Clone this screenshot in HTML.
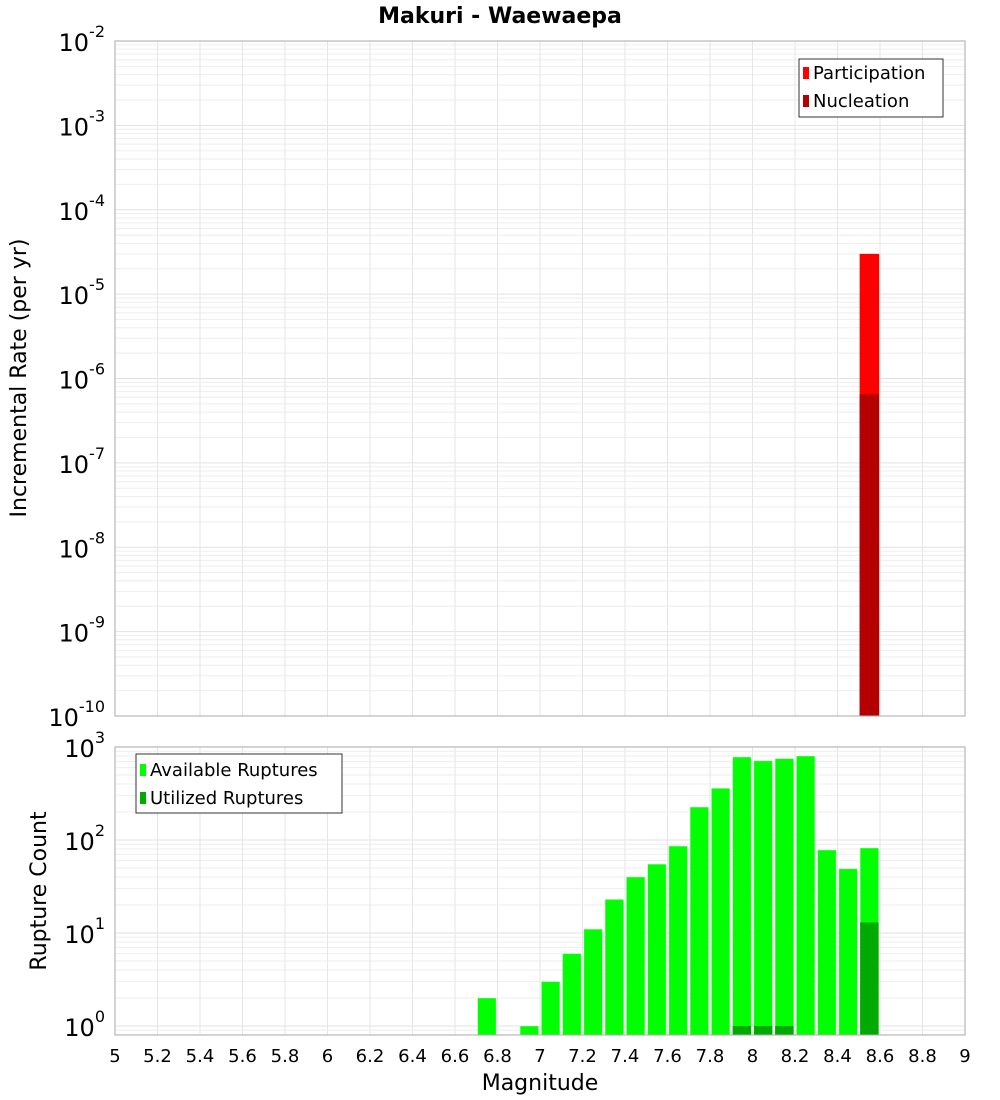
<!DOCTYPE html>
<html><head><meta charset="utf-8">
<style>
body{margin:0;background:#fff;font-family:"DejaVu Sans","Liberation Sans",sans-serif;}
svg{display:block}
</style></head>
<body>
<svg id="c" width="1000" height="1100" xmlns="http://www.w3.org/2000/svg"></svg>
<script>
const magTicks=["5","5.2","5.4","5.6","5.8","6","6.2","6.4","6.6","6.8","7","7.2","7.4","7.6","7.8","8","8.2","8.4","8.6","8.8","9"];
const rateMags=[8.55];
const participation=[3.0e-5];
const nucleation=[6.5e-7];
const countMags=[6.75,6.95,7.05,7.15,7.25,7.35,7.45,7.55,7.65,7.75,7.85,7.95,8.05,8.15,8.25,8.35,8.45,8.55];
const available=[2,1,3,6,11,23,40,55,86,226,360,780,710,750,800,78,49,82];
const utilizedMags=[7.95,8.05,8.15,8.55];
const utilized=[1,1,1,13];
const rateExps=[-2,-3,-4,-5,-6,-7,-8,-9,-10];
const countExps=[3,2,1,0];

const NS="http://www.w3.org/2000/svg";
const svg=document.getElementById('c');
function el(t,a,p){const e=document.createElementNS(NS,t);for(const k in a)e.setAttribute(k,a[k]);(p||svg).appendChild(e);return e;}
const X0=115,X1=965;
const xs=m=>X0+(m-5)/4*(X1-X0);
// top plot
const T={top:41,bot:716,lmax:-2,lmin:-10};
const yT=v=>T.top+(T.lmax-Math.log10(v))/(T.lmax-T.lmin)*(T.bot-T.top);
const B={top:747,bot:1035,lmax:3,lmin:-0.0968};
const yB=v=>B.top+(B.lmax-Math.log10(v))/(B.lmax-B.lmin)*(B.bot-B.top);

function grid(P,yf,g){
  for(let e=Math.floor(P.lmin);e<P.lmax;e++)for(let k=1;k<10;k++){const v=k*Math.pow(10,e);const lv=Math.log10(v);if(lv<P.lmin||lv>P.lmax)continue;const y=yf(v);
    const l=el('line',{x1:X0,x2:X1,y1:y,y2:y,stroke:k==1?'#e2e2e2':'#eeeeee','stroke-width':1},g);}
  magTicks.forEach(t=>{const x=xs(+t);const l=el('line',{x1:x,x2:x,y1:P.top,y2:P.bot,stroke:'#e6e6e6'},g);});
}
function frame(P,name){const r=el('rect',{x:X0,y:P.top,width:X1-X0,height:P.bot-P.top,fill:'none',stroke:'#aaaaaa'});}
function ylabel(y,e,name){const t=el('text',{x:105,y:y+10,'text-anchor':'end','font-size':24,fill:'#000'});
  const a=el('tspan',{},t);a.textContent='10';const b=el('tspan',{dy:-14,'font-size':16},t);b.textContent=String(e);}

// title
const title=el('text',{x:500,y:23,'text-anchor':'middle','font-size':22,'font-weight':'bold'});title.textContent='Makuri - Waewaepa';


// top
const gT=el('g',{});
grid(T,yT,gT);
const bw=19.5;
rateMags.forEach((m,i)=>{const x=xs(m)-bw/2;
  const p=el('rect',{x:x,y:yT(participation[i]),width:bw,height:T.bot-yT(participation[i]),fill:'#ff0000'});
  const n=el('rect',{x:x,y:yT(nucleation[i]),width:bw,height:T.bot-yT(nucleation[i]),fill:'#b40000'});});
frame(T,'rate-plot-area');
rateExps.forEach(e=>ylabel(yT(Math.pow(10,e)),e,'rate-y-tick-label'));
const yt=el('text',{transform:'translate(26,378) rotate(-90)','text-anchor':'middle','font-size':22});yt.textContent='Incremental Rate (per yr)';

// top legend
const lg=el('g',{});
el('rect',{x:799,y:59,width:144,height:58,fill:'#fff',stroke:'#333'},lg);
el('rect',{x:803,y:67,width:6,height:12,fill:'#ff0000'},lg);
let t1=el('text',{x:813,y:79,'font-size':18},lg);t1.textContent='Participation';
el('rect',{x:803,y:95,width:6,height:12,fill:'#b40000'},lg);
let t2=el('text',{x:813,y:107,'font-size':18},lg);t2.textContent='Nucleation';

// bottom
const gB=el('g',{});
grid(B,yB,gB);
countMags.forEach((m,i)=>{const y=yB(available[i]);const r=el('rect',{x:xs(m)-bw/2+0.5,y:y,width:bw-1,height:B.bot-y,fill:'#00ff00',stroke:'#ffffff','stroke-opacity':0.4,'stroke-width':0.8});
  });
utilizedMags.forEach((m,i)=>{const y=yB(utilized[i]);const r=el('rect',{x:xs(m)-bw/2+0.5,y:y,width:bw-1,height:B.bot-y,fill:'#00aa00'});
  });
frame(B,'count-plot-area');
countExps.forEach(e=>ylabel(yB(Math.pow(10,e)),e,'count-y-tick-label'));
const yb=el('text',{transform:'translate(46,891) rotate(-90)','text-anchor':'middle','font-size':22});yb.textContent='Rupture Count';

magTicks.forEach(t=>{const tx=el('text',{x:xs(+t),y:1062,'text-anchor':'middle','font-size':18});tx.textContent=t;});
const xt=el('text',{x:540,y:1090,'text-anchor':'middle','font-size':22});xt.textContent='Magnitude';

// bottom legend
const lb=el('g',{});
el('rect',{x:136,y:754,width:206,height:59,fill:'#fff',stroke:'#333'},lb);
el('rect',{x:140,y:764,width:6,height:12,fill:'#00ff00'},lb);
let t3=el('text',{x:150,y:776,'font-size':18},lb);t3.textContent='Available Ruptures';
el('rect',{x:140,y:792,width:6,height:12,fill:'#00aa00'},lb);
let t4=el('text',{x:150,y:804,'font-size':18},lb);t4.textContent='Utilized Ruptures';
</script>
</body></html>
